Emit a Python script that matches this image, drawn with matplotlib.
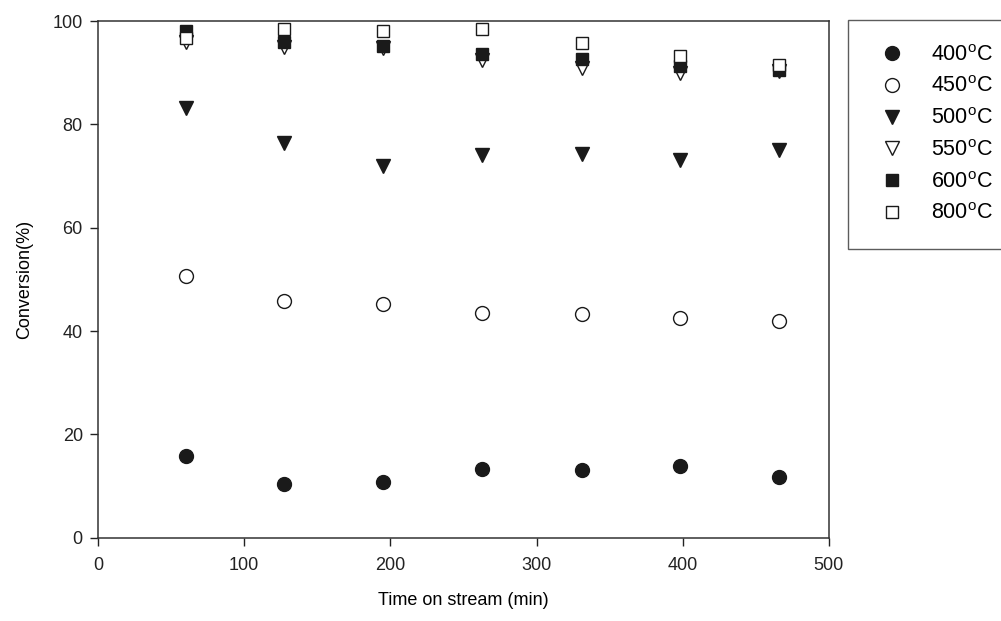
import numpy as np
import matplotlib
matplotlib.use("Agg")
import matplotlib.pyplot as plt

plt.rcParams['font.family'] = ['Liberation Sans', 'DejaVu Sans']
plt.rcParams['mathtext.default'] = 'regular'

# Data
time_min = [60, 127, 195, 263, 331, 398, 466]
conv_400 = [15.8, 10.5, 10.8, 13.3, 13.1, 13.9, 11.8]
conv_450 = [50.7, 45.8, 45.2, 43.6, 43.3, 42.5, 41.9]
conv_500 = [83.2, 76.5, 72.0, 74.1, 74.2, 73.1, 75.0]
conv_550 = [96.0, 95.0, 94.8, 92.5, 91.0, 90.0, 90.3]
conv_600 = [98.0, 96.0, 95.2, 93.6, 92.6, 91.3, 90.5]
conv_800 = [96.8, 98.5, 98.1, 98.4, 95.8, 93.2, 91.5]
labels = ['400$^{o}$C', '450$^{o}$C', '500$^{o}$C', '550$^{o}$C', '600$^{o}$C', '800$^{o}$C']

series = [conv_400, conv_450, conv_500, conv_550, conv_600, conv_800]
markers = ['o', 'o', 'v', 'v', 's', 's']
filled = [True, False, True, False, True, False]
sizes = [10, 10, 10, 10, 9, 9]

fig = plt.figure(figsize=(10.01, 6.21), dpi=100)
ax = fig.add_axes([0.098, 0.134, 0.730, 0.832])

for vals, m, f, s, lab in zip(series, markers, filled, sizes, labels):
    ax.plot(time_min, vals, linestyle='none', marker=m, markersize=s,
            markerfacecolor='#1a1a1a' if f else 'white',
            markeredgecolor='#1a1a1a', markeredgewidth=1.0, label=lab)

ax.set_xlim(0, 500)
ax.set_ylim(0, 100)
ax.set_xticks([0, 100, 200, 300, 400, 500])
ax.set_yticks([0, 20, 40, 60, 80, 100])
ax.tick_params(direction='out', length=6, width=1, labelsize=13, colors='#222222',
               top=False, right=False)
ax.tick_params(axis='x', pad=8)
ax.tick_params(axis='y', pad=5)
for sp in ax.spines.values():
    sp.set_linewidth(1.1)
    sp.set_color('#333333')

ax.set_xlabel('Time on stream (min)', fontsize=13, labelpad=13)
ax.set_ylabel('Conversion(%)', fontsize=13, labelpad=14)

leg = fig.legend(loc='upper left', bbox_to_anchor=(0.847, 0.968), fontsize=15.5,
                 frameon=True, fancybox=False, edgecolor='#333333',
                 handletextpad=0.91, labelspacing=0.5, borderpad=1.15,
                 borderaxespad=0, handlelength=1.8)
leg.get_frame().set_linewidth(1.0)

fig.savefig('out.png', dpi=100)
